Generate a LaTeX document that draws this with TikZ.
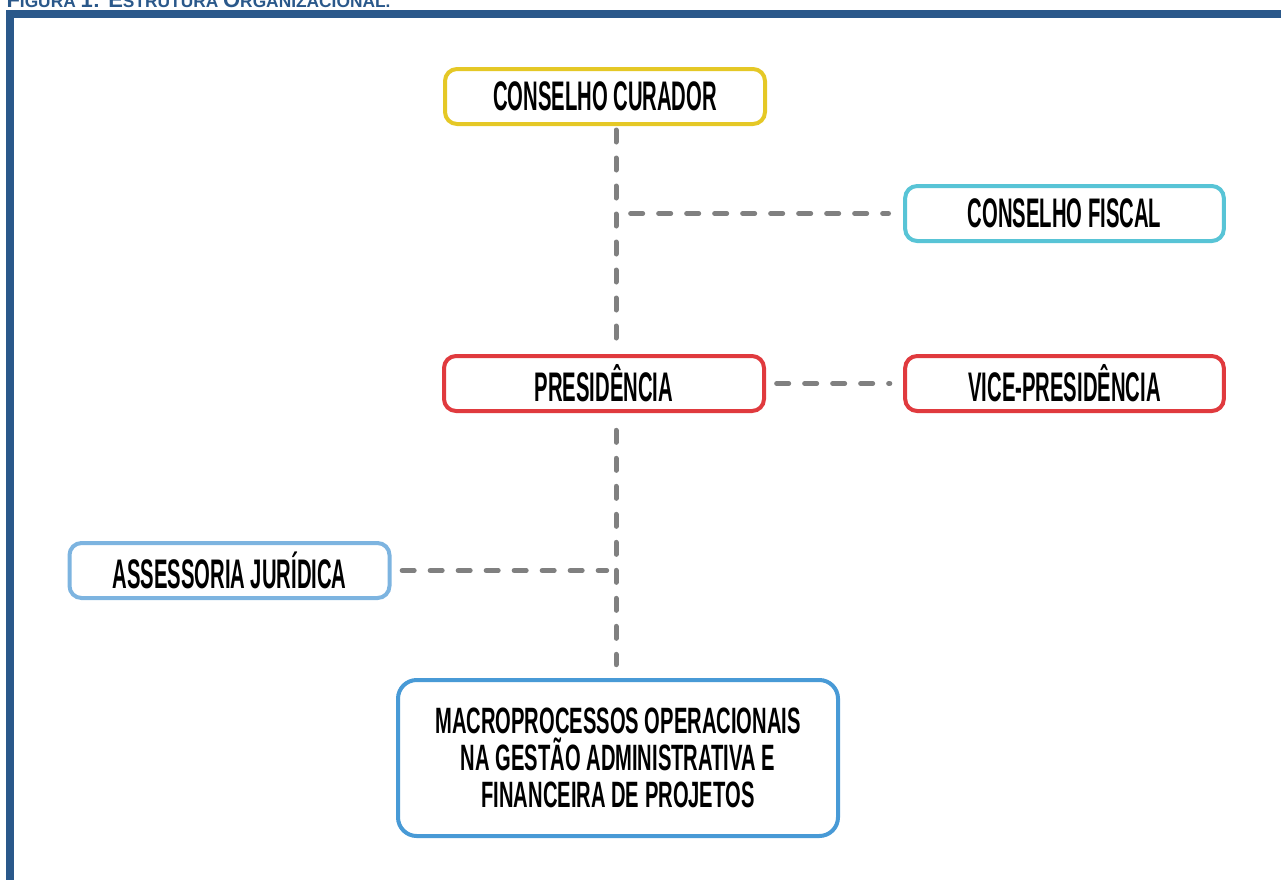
\documentclass[tikz,border=0pt]{standalone}
\usepackage{fontspec}
\setmainfont{Liberation Sans}
\newfontfamily\boxfont[FakeStretch=0.49]{Liberation Sans}
\newfontfamily\macrofont[FakeStretch=0.55]{Liberation Sans}

\definecolor{frameblue}{RGB}{42,88,138}
\definecolor{linkgray}{RGB}{128,128,128}
\definecolor{curyellow}{RGB}{229,200,38}
\definecolor{fiscyan}{RGB}{88,196,214}
\definecolor{presred}{RGB}{224,58,62}
\definecolor{jurblue}{RGB}{125,180,224}
\definecolor{macroblue}{RGB}{72,154,214}

\tikzset{every picture/.style={line width=0.75pt}}
\tikzset{
  orgbox/.style={draw, line width=3pt, rounded corners=9pt, fill=white,
    inner sep=0pt, minimum width=240pt, minimum height=41.25pt, align=center,
    font=\boxfont\bfseries\fontsize{31}{32}\selectfont},
  link/.style={draw=linkgray, line width=3.75pt, line cap=round,
    dash pattern=on 9pt off 12pt},
  frame/.style={draw=frameblue, line width=6pt}
}

\begin{document}
\begin{tikzpicture}[x=0.75pt,y=0.75pt,yscale=-1,xscale=1]
\useasboundingbox (0,0) rectangle (1281,879);

% Title (cut at the top of the page)
\begin{scope}
\clip (0,0) rectangle (1281,9);
\node [anchor=base west, inner sep=0pt, text=frameblue, font=\bfseries] (title) at (6,7)
  {{\fontsize{16.5}{16}\selectfont F}{\fontsize{13}{16}\selectfont IGURA }{\fontsize{16.5}{16}\selectfont 1: E}{\fontsize{13}{16}\selectfont STRUTURA }{\fontsize{16.5}{16}\selectfont O}{\fontsize{13}{16}\selectfont RGANIZACIONAL.}};
\end{scope}

% Frame
\draw [frame] (10,885) -- (10,14) -- (1290,14) ;

% Trunk of the chart
\coordinate (trunk) at (616,0);

% Boxes
\node [orgbox, draw=curyellow] (cur) at (605,96.5) {CONSELHO CURADOR};
\node [orgbox, draw=fiscyan, minimum width=239pt] (fis) at (1064.5,213.5) {CONSELHO FISCAL};
\node [orgbox, draw=presred] (pres) at (604,383.5) {PRESIDÊNCIA};
\node [orgbox, draw=presred, minimum width=239pt] (vice) at (1064.5,383.5) {VICE-PRESIDÊNCIA};
\node [orgbox, draw=jurblue] (jur) at (229.5,570.5) {ASSESSORIA JURÍDICA};
\node [orgbox, draw=macroblue, rounded corners=14pt, minimum width=330pt, minimum height=117pt,
  font=\macrofont\bfseries\fontsize{27.5}{27.75}\selectfont] (macro) at (618,758)
  {MACROPROCESSOS OPERACIONAIS\\NA GESTÃO ADMINISTRATIVA E\\FINANCEIRA DE PROJETOS};

% Dashed links
\draw [link, shorten <=3pt, shorten >=10pt] (cur.south -| trunk) -- (pres.north -| trunk) ;
\draw [link, shorten <=11pt, shorten >=11pt] (fis.west -| trunk) -- (fis.west) ;
\draw [link, shorten <=8pt, shorten >=10pt] (pres.east) -- (vice.west) ;
\draw [link, shorten <=13pt, shorten >=10pt] (pres.south -| trunk) -- (macro.north -| trunk) ;
\draw [link, shorten <=8pt, shorten >=7pt] (jur.east) -- (jur.east -| trunk) ;

\end{tikzpicture}
\end{document}
